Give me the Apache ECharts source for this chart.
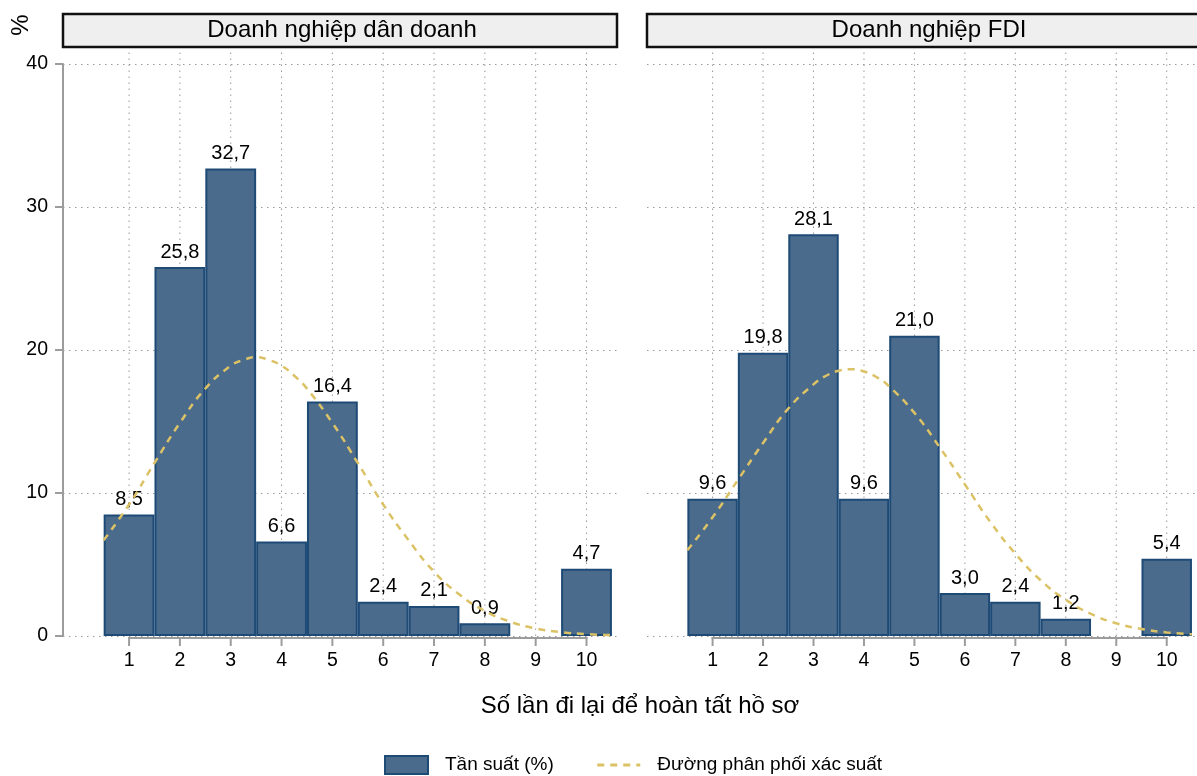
<!DOCTYPE html>
<html>
<head>
<meta charset="utf-8">
<title>Số lần đi lại để hoàn tất hồ sơ</title>
<script src="https://cdn.jsdelivr.net/npm/echarts@6/dist/echarts.min.js"></script>
<style>
  html, body { margin: 0; padding: 0; background: #fff; }
  #chart { width: 1197px; height: 776px; }
</style>
</head>
<body>
<div id="chart"></div>
<script>
// Number of visits needed to complete the paperwork
const visits = [1, 2, 3, 4, 5, 6, 7, 8, 9, 10];

// Share of firms (%) for each number of visits; null = no firms
const privateShare = [8.5, 25.8, 32.7, 6.6, 16.4, 2.4, 2.1, 0.9, null, 4.7];
const fdiShare     = [9.6, 19.8, 28.1, 9.6, 21.0, 3.0, 2.4, 1.2, null, 5.4];

// Fitted probability curve, sampled along the visits axis
const curveX         = [0.5, 1, 1.5, 2, 2.5, 3, 3.25, 3.5, 3.75, 4, 4.25, 4.5, 5, 5.5, 6, 6.5, 7, 7.5, 8, 8.5, 9, 9.5, 10, 10.5];
const privateDensity = [6.7, 9.2, 12.1, 14.9, 17.3, 18.9, 19.3, 19.5, 19.3, 18.9, 18.2, 17.3, 14.9, 12.1, 9.2, 6.7, 4.5, 2.9, 1.75, 1.0, 0.53, 0.27, 0.13, 0.06];
const fdiDensity     = [6.0, 8.3, 10.9, 13.5, 15.9, 17.6, 18.2, 18.55, 18.65, 18.5, 18.1, 17.45, 15.6, 13.2, 10.6, 8.0, 5.76, 3.9, 2.53, 1.54, 0.89, 0.49, 0.25, 0.12];

const yTicks = [0, 10, 20, 30, 40];
const panelTitles = ['Doanh nghiệp dân doanh', 'Doanh nghiệp FDI'];
const barName = 'Tần suất (%)';
const curveName = 'Đường phân phối xác suất';
const xTitle = 'Số lần đi lại để hoàn tất hồ sơ';
const yTitle = '%';

const FONT = '"Liberation Sans", Arial, Helvetica, sans-serif';
const BAR_FILL = '#4a6b8c';
const BAR_EDGE = '#1e4a76';
const CURVE = '#dcc267';
const AXIS_GREY = '#9c9c9c';
const GRID_GREY = '#9a9a9a';
const DOTS = [1.5, 4.5];

const panels = [
  { share: privateShare, density: privateDensity, left: 63, showY: true },
  { share: fdiShare, density: fdiDensity, left: 647, showY: false }
];

const grids = [], xAxes = [], yAxes = [], series = [];

panels.forEach((p, i) => {
  grids.push({ left: p.left, width: 554, top: 64, bottom: 140, containLabel: false, show: false });

  // the scale only; ticks, labels and guides for visits are drawn by the custom series below
  xAxes.push({
    type: 'value', gridIndex: i, min: -0.3, max: 10.6,
    axisLine: { show: false, onZero: false }, axisTick: { show: false }, splitLine: { show: false },
    axisLabel: { show: false }
  });

  yAxes.push({
    type: 'value', gridIndex: i, min: yTicks[0], max: yTicks[yTicks.length - 1], interval: 10,
    axisLine: { show: p.showY, onZero: false, lineStyle: { color: AXIS_GREY, width: 2 } },
    axisTick: { show: p.showY, length: 8, lineStyle: { color: AXIS_GREY, width: 2 } },
    axisLabel: { show: p.showY, color: '#000', fontFamily: FONT, fontSize: 19.5, margin: 15 },
    splitLine: { show: true, lineStyle: { color: GRID_GREY, width: 1, type: DOTS } }
  });

  // vertical dotted guides at each visit count, x tick marks and tick labels
  series.push({
    type: 'custom', xAxisIndex: i, yAxisIndex: i, silent: true, z: 1, clip: false,
    encode: { x: 0, y: 1 },
    data: visits.map(v => [v, 0]),
    renderItem: (params, api) => {
      const v = api.value(0);
      const base = api.coord([v, 0]);
      const top = api.coord([v, 41]);
      return {
        type: 'group',
        children: [
          { type: 'line', shape: { x1: base[0], y1: base[1], x2: top[0], y2: top[1] },
            style: { stroke: GRID_GREY, lineWidth: 1, lineDash: DOTS } },
          { type: 'line', shape: { x1: base[0], y1: base[1] + 1, x2: base[0], y2: base[1] + 10 },
            style: { stroke: AXIS_GREY, lineWidth: 2 } },
          { type: 'text', x: base[0], y: base[1] + 25,
            style: { text: String(v), fill: '#000', font: '19.5px ' + FONT, align: 'center', verticalAlign: 'middle' } }
        ]
      };
    }
  });

  // x axis line spanning the first to the last visit count
  series.push({
    type: 'custom', xAxisIndex: i, yAxisIndex: i, silent: true, z: 4, clip: false,
    encode: { x: 0, y: 1 },
    data: [[visits[0], 0]],
    renderItem: (params, api) => {
      const a = api.coord([visits[0], 0]);
      const b = api.coord([visits[visits.length - 1], 0]);
      return { type: 'line', shape: { x1: a[0] - 1, y1: a[1] + 2, x2: b[0] + 1, y2: b[1] + 2 },
               style: { stroke: AXIS_GREY, lineWidth: 2 } };
    }
  });

  series.push({
    type: 'bar', name: barName, xAxisIndex: i, yAxisIndex: i, z: 2,
    barWidth: '100%',
    data: visits.map((v, k) => [v, p.share[k]]).filter(d => d[1] !== null),
    itemStyle: { color: BAR_FILL, borderColor: BAR_EDGE, borderWidth: 2 },
    label: {
      show: true, position: 'top', distance: 5, color: '#000', fontFamily: FONT, fontSize: 20,
      formatter: prm => prm.value[1].toFixed(1).replace('.', ',')
    },
    emphasis: { disabled: true }
  });

  series.push({
    type: 'line', name: curveName, xAxisIndex: i, yAxisIndex: i, z: 3,
    smooth: true, symbol: 'none', showSymbol: false,
    data: curveX.map((x, k) => [x, p.density[k]]),
    lineStyle: { color: CURVE, width: 2.5, type: [7, 6] },
    itemStyle: { color: CURVE },
    emphasis: { disabled: true }
  });
});

const headerBox = (x, w, text, cx) => ({
  type: 'group',
  children: [
    { type: 'rect', shape: { x: x, y: 14, width: w, height: 33 },
      style: { fill: '#efefef', stroke: '#111', lineWidth: 2.5 } },
    { type: 'text', x: cx, y: 30,
      style: { text: text, fill: '#000', font: '24px ' + FONT, align: 'center', verticalAlign: 'middle' } }
  ]
});

const option = {
  animation: false,
  backgroundColor: '#fff',
  grid: grids,
  xAxis: xAxes,
  yAxis: yAxes,
  series: series,
  legend: {
    data: [
      { name: barName, icon: 'rect' },
      { name: curveName, itemStyle: { opacity: 0 }, lineStyle: { width: 3, type: [7, 6] } }
    ],
    left: 384, top: 755, padding: 0,
    itemWidth: 43, itemHeight: 18, itemGap: 42,
    selectedMode: false,
    textStyle: { color: '#000', fontFamily: FONT, fontSize: 19, padding: [0, 0, 0, 12] }
  },
  graphic: [
    headerBox(63, 554, panelTitles[0], 342),
    headerBox(647, 564, panelTitles[1], 929),
    { type: 'text', x: 21, y: 25, rotation: Math.PI / 2,
      style: { text: yTitle, fill: '#000', font: '24px ' + FONT, align: 'center', verticalAlign: 'middle' } },
    { type: 'text', x: 640, y: 706,
      style: { text: xTitle, fill: '#000', font: '24px ' + FONT, align: 'center', verticalAlign: 'middle' } }
  ]
};

const chart = echarts.init(document.getElementById('chart'), null, { renderer: 'canvas' });
chart.setOption(option);
</script>
</body>
</html>
